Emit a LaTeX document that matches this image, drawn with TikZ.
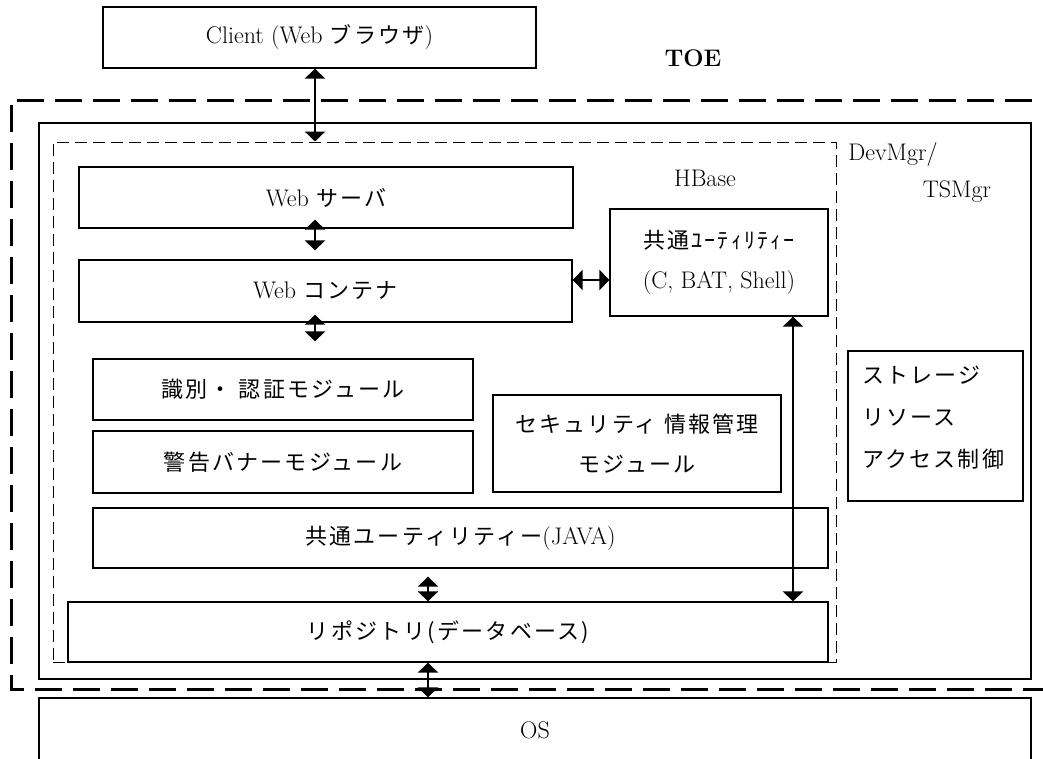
\documentclass[tikz,border=0pt]{standalone}
\usepackage{fontspec}
\newfontfamily\jp[LetterSpace=10]{Noto Sans CJK JP}
\newcommand\jj{\fontsize{22}{40}\selectfont\jp}
\usetikzlibrary{arrows.meta}
\begin{document}
\begin{tikzpicture}[x=1pt,y=-1pt,
  box/.style={draw, line width=1.3pt, inner sep=0pt, align=center, font=\fontsize{24}{40}\selectfont},
  arr/.style={line width=2.6pt, {Triangle[length=10pt,width=20pt]}-{Triangle[length=10pt,width=20pt]}},
  lbl/.style={inner sep=0pt, font=\fontsize{24}{40}\selectfont}]
\useasboundingbox (0,0) rectangle (1043,758);
% TOE boundary
\draw[line width=3pt, dash pattern=on 27pt off 11pt] (1070,100) -- (11,100) -- (11,689) -- (1070,689);
\node[lbl, font=\fontsize{24}{28}\selectfont\bfseries] (toe) at (693,58) {TOE};
% DevMgr
\node[draw, line width=1.3pt, minimum width=992pt, minimum height=556pt, inner sep=0pt] (dev) at (535,401) {};
\node[lbl] (devl1) at (893,154) {DevMgr/};
\node[lbl] (devl2) at (957,192) {TSMgr};
% HBase
\node[draw, line width=1pt, dash pattern=on 12pt off 6pt, minimum width=783pt, minimum height=520pt, inner sep=0pt] (hb) at (444.5,402) {};
\node[lbl] (hbl) at (705,178) {HBase};
% client
\node[box, minimum width=433pt, minimum height=61pt] (client) at (319.5,37.5) {Client (Web {\jj ブラウザ})};
% boxes
\node[box, minimum width=494pt, minimum height=61pt] (ws) at (326,197.5) {Web {\jj サーバ}};
\node[box, minimum width=493pt, minimum height=62pt] (wc) at (325.5,291) {Web {\jj コンテナ}};
\node[box, minimum width=218pt, minimum height=107pt] (cu) at (719,262.5) {{\jj 共通ﾕｰﾃｨﾘﾃｨｰ}\\(C, BAT, Shell)};
\node[box, minimum width=380pt, minimum height=61pt] (auth) at (283,389.5) {\jj 識別・ 認証モジュール};
\node[box, minimum width=380pt, minimum height=62pt] (ban) at (283,462) {\jj 警告バナーモジュール};
\node[box, minimum width=288pt, minimum height=97pt] (sec) at (637,443.5) {{\jj セキュリティ 情報管理}\\{\jj モジュール}};
\node[box, minimum width=735pt, minimum height=60pt] (java) at (460.5,538) {{\jj 共通ユーティリティー}(JAVA)};
\node[box, minimum width=760pt, minimum height=60pt] (repo) at (448,632) {\jj リポジトリ(データベース)};
\node[draw, line width=1.3pt, minimum width=175pt, minimum height=150pt, inner sep=0pt] (st) at (935.5,426) {};
\node[lbl, anchor=west, align=left, font=\fontsize{22}{42}\selectfont\jp] (stl) at (862,418) {ストレージ\\リソース\\アクセス制御};
\node[box, minimum width=992pt, minimum height=64pt] (os) at (535,730) {OS};
% connectors
\coordinate (xa) at (315,0);
\coordinate (xb) at (793,0);
\coordinate (xc) at (428,0);
\coordinate (ya) at (0,280);
\draw[arr] (client.south -| xa) -- (hb.north -| xa);
\draw[arr] ([yshift=9pt]ws.south -| xa) -- ([yshift=9pt]wc.north -| xa);
\draw[arr] ([yshift=8pt]wc.south -| xa) -- ([yshift=17pt]auth.north -| xa);
\draw[arr] (wc.east |- ya) -- (cu.west |- ya);
\draw[arr] (cu.south -| xb) -- (repo.north -| xb);
\draw[arr] ([yshift=-8pt]java.south -| xc) -- (repo.north -| xc);
\draw[arr] (repo.south -| xc) -- (os.north -| xc);
\end{tikzpicture}
\end{document}
